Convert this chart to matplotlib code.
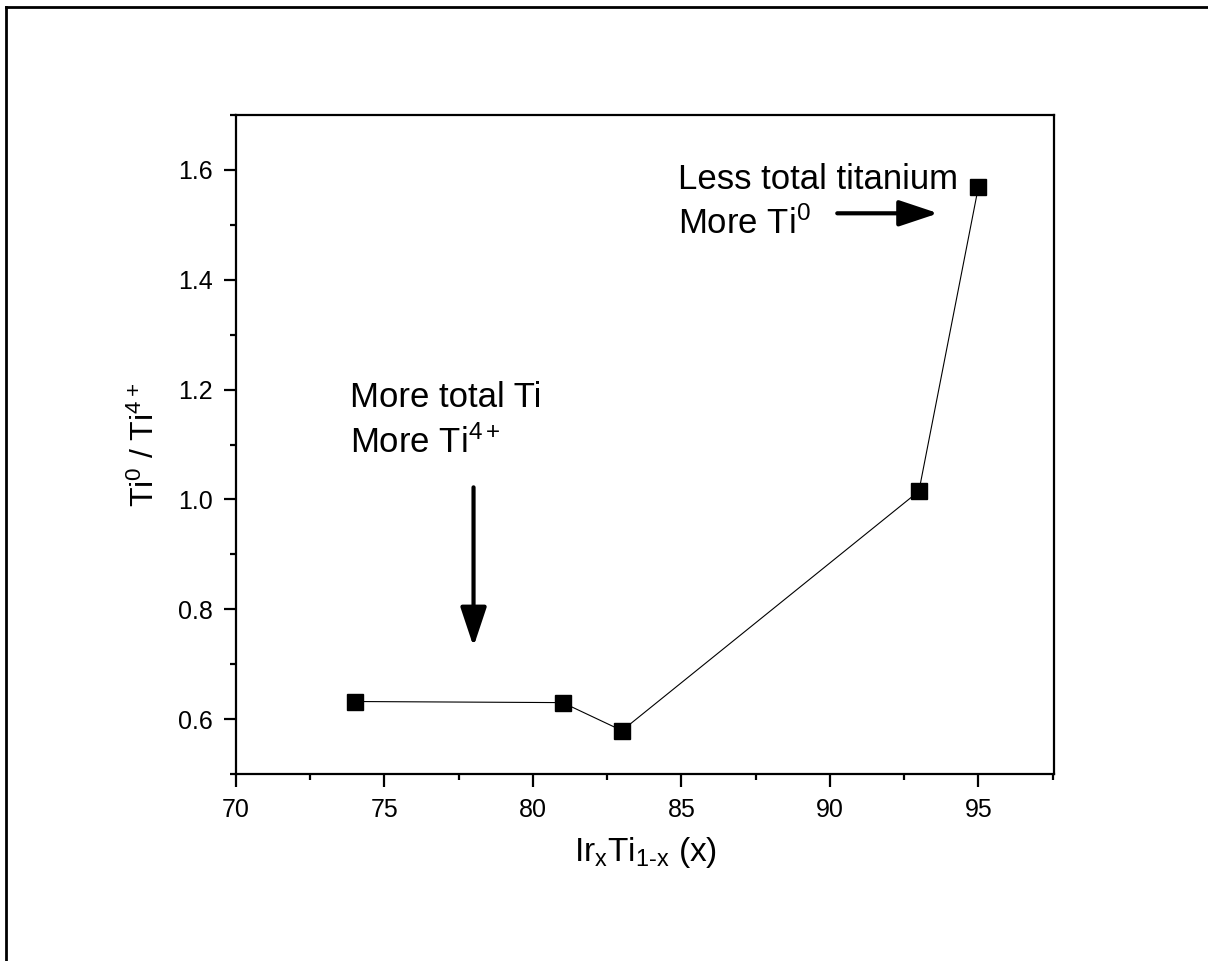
import matplotlib
matplotlib.use("Agg")
import matplotlib.pyplot as plt
from matplotlib.ticker import MultipleLocator, FormatStrFormatter
from matplotlib.lines import Line2D

plt.rcParams['font.family'] = ['Liberation Sans', 'DejaVu Sans']
plt.rcParams['mathtext.fontset'] = 'custom'
plt.rcParams['mathtext.rm'] = 'Liberation Sans'
plt.rcParams['mathtext.it'] = 'Liberation Sans'

x_vals = [74, 81, 83, 93, 95]
ratio = [0.632, 0.630, 0.579, 1.015, 1.568]

fig = plt.figure(figsize=(12.08, 9.61), dpi=100)
W, H = 1208, 961
left, right, top, bottom = 236, 1054, 115, 774
ax = fig.add_axes([left / W, 1 - bottom / H, (right - left) / W, (bottom - top) / H])

ax.plot(x_vals, ratio, color='black', lw=0.8, marker='s', ms=11, mfc='black', mec='black')

ax.set_xlim(70, 97.55)
ax.set_ylim(0.5, 1.7)
ax.xaxis.set_major_locator(MultipleLocator(5))
ax.xaxis.set_minor_locator(MultipleLocator(2.5))
ax.yaxis.set_major_locator(MultipleLocator(0.2))
ax.yaxis.set_minor_locator(MultipleLocator(0.1))
ax.yaxis.set_major_formatter(FormatStrFormatter('%.1f'))

for s in ax.spines.values():
    s.set_linewidth(1.6)
ax.tick_params(which='major', direction='out', length=9, width=1.6, labelsize=18, pad=8)
ax.tick_params(which='minor', direction='out', length=4.5, width=1.6)

ax.set_xlabel(r'Ir$_{\rm x}$Ti$_{\rm 1\text{-}x}$ (x)', fontsize=24, labelpad=10)
ax.set_ylabel(r'Ti$^{\rm 0}$ / Ti$^{\rm 4+}$', fontsize=23, labelpad=12)

ax.text(73.84, 1.168, 'More total Ti', fontsize=25, ha='left', va='baseline')
ax.text(73.84, 1.084, r'More Ti$^{\rm 4+}$', fontsize=25, ha='left', va='baseline')

arrow_kw = dict(arrowstyle='-|>,head_length=1.2,head_width=0.4', color='black', lw=3,
                mutation_scale=20, shrinkA=0, shrinkB=0)
ax.annotate('', xy=(78.0, 0.732), xytext=(78.0, 1.022), arrowprops=arrow_kw)

ax.text(84.88, 1.565, 'Less total titanium', fontsize=25, ha='left', va='baseline')
ax.text(84.88, 1.483, r'More Ti$^{\rm 0}$', fontsize=25, ha='left', va='baseline')
ax.annotate('', xy=(93.65, 1.521), xytext=(90.25, 1.521), arrowprops=arrow_kw)

fig.add_artist(Line2D([6 / W, 6 / W], [0, 1 - 7 / H], color='black', lw=2, transform=fig.transFigure))
fig.add_artist(Line2D([6 / W, 1], [1 - 7 / H, 1 - 7 / H], color='black', lw=2, transform=fig.transFigure))

fig.savefig('out.png', dpi=100)
